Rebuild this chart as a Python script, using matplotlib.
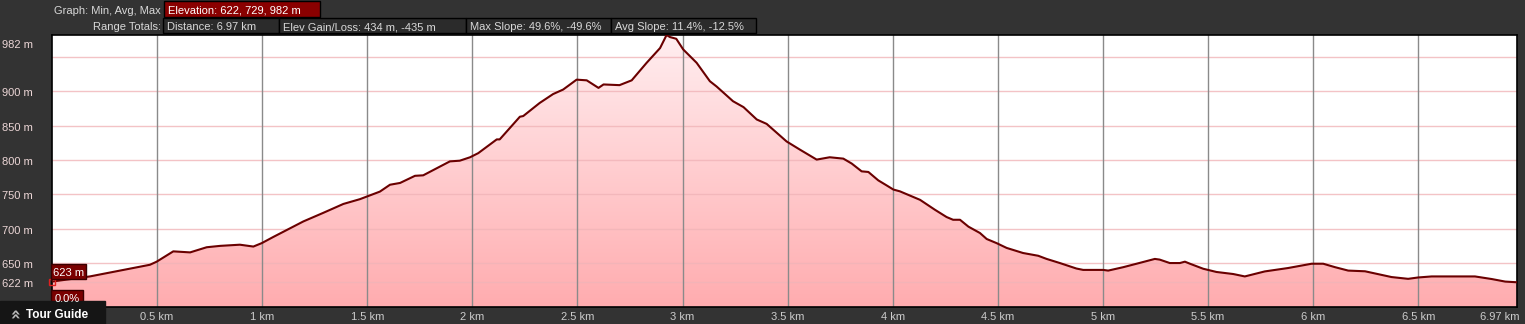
import numpy as np
import matplotlib
matplotlib.use("Agg")
import matplotlib.pyplot as plt
from matplotlib.patches import Rectangle

plt.rcParams["font.family"] = ["Liberation Sans", "DejaVu Sans"]

# elevation profile (km, m)
dist = [0, 0.18, 0.34, 0.466, 0.498, 0.577, 0.657, 0.736, 0.80, 0.894,
        0.958, 0.998, 1.053, 1.196, 1.29, 1.386, 1.465, 1.56, 1.608, 1.656,
        1.727, 1.766, 1.893, 1.94, 1.989, 2.028, 2.116, 2.13, 2.226, 2.242,
        2.32, 2.384, 2.432, 2.496, 2.544, 2.60, 2.624, 2.70, 2.758, 2.829,
        2.893, 2.924, 2.94, 2.97, 3.003, 3.067, 3.13, 3.162, 3.24, 3.29,
        3.353, 3.40, 3.495, 3.559, 3.638, 3.70, 3.765, 3.805, 3.852, 3.884,
        3.931, 3.971, 4.003, 4.034, 4.13, 4.20, 4.256, 4.287, 4.32, 4.36,
        4.415, 4.447, 4.494, 4.542, 4.62, 4.692, 4.732, 4.795, 4.874, 4.906,
        5.001, 5.025, 5.097, 5.16, 5.247, 5.27, 5.318, 5.366, 5.39, 5.414,
        5.477, 5.54, 5.62, 5.675, 5.77, 5.88, 5.993, 6.048, 6.104, 6.167,
        6.247, 6.373, 6.452, 6.50, 6.564, 6.77, 6.85, 6.914, 6.97]
elev = [623, 630.5, 640, 647.5, 652, 667, 665.5, 673, 675, 676.7,
        674, 679, 688, 710.6, 723, 736, 743, 754, 764, 766.6,
        777, 777.7, 798, 799, 804, 810, 830, 830, 863, 864,
        883, 896, 902.6, 917, 916, 905, 910, 909, 916, 941.5,
        963, 982, 979, 976.5, 961, 941.5, 914.7, 907, 885.6, 877,
        859, 852.6, 827, 815, 800.6, 804, 802, 794.8, 783.5, 782.6,
        770.4, 763, 757, 754.4, 742, 727.7, 717, 713, 713, 703,
        693.7, 685, 679, 672, 664.6, 660.6, 656, 650, 642, 640,
        640, 639, 644, 649, 656, 655, 650, 650, 652, 649,
        641.7, 637, 634, 630.5, 637.8, 642.7, 649, 649, 644, 639,
        638, 629.6, 627, 629, 630.5, 630.5, 626.7, 623, 622]

x_ticks = [0.5, 1, 1.5, 2, 2.5, 3, 3.5, 4, 4.5, 5, 5.5, 6, 6.5, 6.97]
x_labels = ["0.5 km", "1 km", "1.5 km", "2 km", "2.5 km", "3 km", "3.5 km",
            "4 km", "4.5 km", "5 km", "5.5 km", "6 km", "6.5 km", "6.97 km"]
y_grid = [622, 650, 700, 750, 800, 850, 900, 950]
y_labels = {982: "982 m", 900: "900 m", 850: "850 m", 800: "800 m",
            750: "750 m", 700: "700 m", 650: "650 m", 622: "622 m"}

header_row2 = ["Distance: 6.97 km", "Elev Gain/Loss: 434 m, -435 m",
               "Max Slope: 49.6%, -49.6%", "Avg Slope: 11.4%, -12.5%"]

W, H = 1525, 324
BG = "#333333"
TXT = "#d8d8d8"
DY = 1.5  # text sits a little lower than matplotlib's centre

fig = plt.figure(figsize=(W / 100, H / 100), dpi=100, facecolor=BG)


def px(x, y):
    # pixel coords (origin top-left) -> figure fraction
    return x / W, 1 - y / H


def box(x0, y0, x1, y1, color, edge="black"):
    fig.patches.append(Rectangle(px(x0, y1), (x1 - x0) / W, (y1 - y0) / H,
                                 transform=fig.transFigure, facecolor=color,
                                 edgecolor=edge, linewidth=1))


ax = fig.add_axes([52 / W, 17 / H, 1465 / W, 272 / H])
ax.set_xlim(0, 6.97)
ax.set_ylim(586, 982)
ax.set_facecolor("white")

# gradient fill under the profile
grad = np.linspace(0, 1, 256).reshape(-1, 1)
top_c = np.array([255, 238, 240]) / 255
bot_c = np.array([255, 172, 175]) / 255
img = top_c + (bot_c - top_c) * grad
poly = ax.fill_between(dist, elev, 586, color="none", lw=0)
im = ax.imshow(img.reshape(256, 1, 3), extent=[0, 6.97, 586, 982],
               aspect="auto", origin="upper", zorder=1)
im.set_clip_path(poly.get_paths()[0], transform=ax.transData)

for yv in y_grid:
    ax.axhline(yv, color="#f0b4b8", lw=1, zorder=2, alpha=0.8)
for xv in x_ticks[:-1]:
    ax.axvline(xv, color="#8a8a8a", lw=1, zorder=2)

ax.plot(dist, elev, color="#6a0000", lw=1.5, zorder=3)
ax.plot(dist[0], elev[0], marker="s", ms=5, mfc="none", mec="#e02020",
        mew=1, zorder=4, clip_on=False)

ax.set_xticks([])
ax.set_yticks([])
for s in ax.spines.values():
    s.set_color("black")
    s.set_linewidth(1.2)

# axis labels drawn as text
for xv, lab in zip(x_ticks, x_labels):
    xf = 52 / W + xv / 6.97 * 1465 / W
    ha = "center"
    if lab == "6.97 km":
        ha = "right"
        xf = 1520 / W
    fig.text(xf, px(0, 316 + DY)[1], lab, color="#cccccc", fontsize=8,
             ha=ha, va="center")
for yv, lab in y_labels.items():
    yp = 263.3 - (yv - 650) * 0.686
    if yv == 982:
        yp = 43
    fig.text(2 / W, px(0, yp + DY)[1], lab, color="#ecd6d6", fontsize=8,
             ha="left", va="center")

# header
fig.text(*px(161, 9 + DY), "Graph: Min, Avg, Max", color=TXT, fontsize=8,
         ha="right", va="center")
box(164, 1, 320, 17, "#8a0000")
fig.text(*px(168, 9 + DY), "Elevation: 622, 729, 982 m", color="white",
         fontsize=8, va="center")
fig.text(*px(161, 25.5 + DY), "Range Totals:", color=TXT, fontsize=8,
         ha="right", va="center")
edges = [163, 279, 466, 611, 756]
for i, t in enumerate(header_row2):
    box(edges[i], 18, edges[i + 1], 33, "#2b2b2b")
    fig.text(*px(edges[i] + 4, 25.5 + DY), t, color=TXT, fontsize=8,
             va="center")

# cursor labels
box(51, 264, 86, 279, "#7a0000", edge="#3a0000")
fig.text(*px(53, 271.5 + DY), "623 m", color="white", fontsize=8, va="center")
box(51, 290, 83, 304, "#7a0000", edge="#3a0000")
fig.text(*px(55, 297.5 + DY), "0.0%", color="white", fontsize=8, va="center")

# tour guide tab
box(0, 301, 105, 324, "#151515", edge="#151515")
fig.text(*px(16, 313), "\u00bb", color="#bbbbbb", fontsize=12,
         ha="center", va="center", rotation=90, fontweight="bold",
         family="DejaVu Sans")
fig.text(*px(26, 313 + DY), "Tour Guide", color="white", fontsize=8.5,
         fontweight="bold", va="center")

fig.savefig("out.png", dpi=100, facecolor=BG)
